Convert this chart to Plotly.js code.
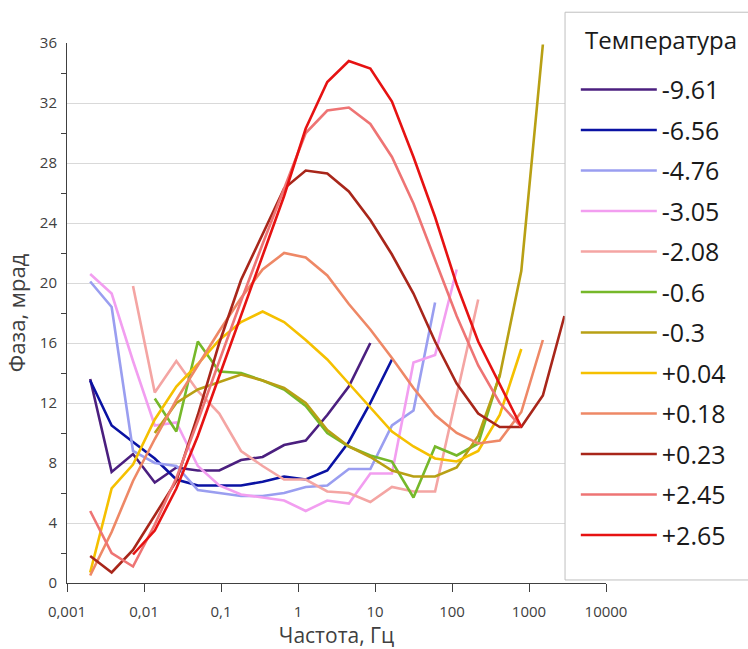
<!DOCTYPE html>
<html>
<head>
<meta charset="utf-8">
<script src="https://cdn.plot.ly/plotly-3.0.1.min.js"></script>
<style>
  html, body { margin: 0; padding: 0; background: #ffffff; }
  #chart { width: 748px; height: 649px; }
</style>
</head>
<body>
<div id="chart"></div>
<script>
// Frequencies, Hz
const freq = [0.002, 0.0038, 0.0072, 0.0138, 0.0263, 0.050, 0.095, 0.182, 0.347, 0.66,
              1.26, 2.4, 4.57, 8.7, 16.6, 31.6, 60.3, 115, 219, 417, 794, 1514, 2884];

// Legend labels (temperature)
const legendTitle = 'Температура';
const labels = ['-9.61', '-6.56', '-4.76', '-3.05', '-2.08', '-0.6', '-0.3',
                '+0.04', '+0.18', '+0.23', '+2.45', '+2.65'];

// Phase, mrad (null = no measurement)
const t_m961 = [13.6, 7.4, 8.6, 6.7, 7.7, 7.5, 7.5, 8.2, 8.4, 9.2, 9.5, 11.2, 13.1, 16.0,
                null, null, null, null, null, null, null, null, null];
const t_m656 = [13.5, 10.5, 9.4, 8.3, 6.9, 6.5, 6.5, 6.5, 6.75, 7.1, 6.9, 7.5, 9.4, 12.0, 14.9,
                null, null, null, null, null, null, null, null];
const t_m476 = [20.1, 18.4, 8.8, 8.0, 7.8, 6.2, 6.0, 5.8, 5.8, 6.0, 6.4, 6.5, 7.6, 7.6, 10.5, 11.5, 18.7,
                null, null, null, null, null, null];
const t_m305 = [20.6, 19.3, 14.8, 10.5, 10.7, 7.8, 6.5, 5.9, 5.7, 5.5, 4.8, 5.5, 5.3, 7.3, 7.3, 14.7, 15.2, 20.9,
                null, null, null, null, null];
const t_m208 = [null, null, 19.8, 12.7, 14.8, 12.8, 11.3, 8.8, 7.8, 6.9, 6.9, 6.1, 6.0, 5.4, 6.4, 6.1, 6.1, 12.5, 18.9,
                null, null, null, null];
const t_m06  = [null, null, null, 12.3, 10.1, 16.1, 14.1, 14.0, 13.5, 12.9, 11.8, 10.0, 9.1, 8.5, 8.1, 5.7, 9.1, 8.5, 9.3, 13.9,
                null, null, null];
const t_m03  = [null, null, null, 10.0, 12.0, 12.9, 13.4, 13.9, 13.5, 13.0, 12.0, 10.2, 9.1, 8.4, 7.5, 7.1, 7.1, 7.7, 9.8, 13.8, 20.8, 35.9,
                null];
const t_p004 = [0.7, 6.3, 7.9, 10.9, 13.1, 14.6, 16.2, 17.4, 18.1, 17.4, 16.2, 14.9, 13.3, 11.7, 10.1, 9.1, 8.3, 8.1, 8.8, 11.2, 15.6,
                null, null];
const t_p018 = [0.5, 3.4, 6.8, 9.6, 12.2, 14.5, 16.8, 19.0, 20.9, 22.0, 21.7, 20.5, 18.6, 16.9, 15.0, 13.0, 11.2, 10.0, 9.3, 9.5, 11.4, 16.2,
                null];
const t_p023 = [1.8, 0.7, 2.2, 4.5, 6.8, 11.2, 16.0, 20.2, 23.3, 26.3, 27.5, 27.3, 26.1, 24.2, 21.9, 19.3, 16.1, 13.3, 11.3, 10.4, 10.4, 12.5, 17.8];
const t_p245 = [4.8, 2.0, 1.1, 3.9, 7.0, 10.8, 14.8, 18.8, 22.6, 26.3, 30.0, 31.5, 31.7, 30.6, 28.4, 25.3, 21.6, 17.8, 14.5, 12.0, 10.4,
                null, null];
const t_p265 = [null, null, 1.9, 3.5, 6.3, 9.8, 13.8, 17.8, 21.8, 25.8, 30.3, 33.4, 34.8, 34.3, 32.1, 28.4, 24.4, 19.9, 16.1, 13.3, 10.4,
                null, null];

// Axis tick labels
const xTickVals = [0.001, 0.01, 0.1, 1, 10, 100, 1000, 10000];
const xTickText = ['0,001', '0,01', '0,1', '1', '10', '100', '1000', '10000'];

const series = [t_m961, t_m656, t_m476, t_m305, t_m208, t_m06, t_m03, t_p004, t_p018, t_p023, t_p245, t_p265];
const colors = ['#4B1F7F', '#0A12A3', '#9A9EF0', '#F29EF0', '#F4A5A3', '#76B82A', '#B8A014',
                '#F5C000', '#EE8866', '#A8261A', '#EE7474', '#E61212'];

const traces = series.map((ys, k) => ({
  type: 'scatter',
  mode: 'lines',
  x: freq,
  y: ys,
  name: labels[k],
  legendgroup: 'g' + k,
  connectgaps: false,
  line: { color: colors[k], width: 2.6 },
  hoverinfo: 'skip'
}));

const font = '"Open Sans", "DejaVu Sans", sans-serif';

const layout = {
  width: 748,
  height: 649,
  margin: { l: 67, r: 142, t: 43, b: 66, autoexpand: false },
  paper_bgcolor: '#ffffff',
  plot_bgcolor: '#ffffff',
  font: { family: font, color: '#404040' },
  showlegend: true,
  xaxis: {
    type: 'log',
    range: [-3, 4],
    tickmode: 'array',
    tickvals: xTickVals,
    ticktext: xTickText,
    ticks: 'outside',
    ticklen: 8,
    tickcolor: '#404040',
    ticklabelstandoff: 7,
    showgrid: false,
    showline: true,
    linecolor: '#404040',
    linewidth: 1,
    zeroline: false,
    tickfont: { size: 15, color: '#404040' },
    title: { text: 'Частота, Гц', font: { size: 21, color: '#404040' }, standoff: 9 }
  },
  yaxis: {
    range: [0, 36],
    tickmode: 'linear',
    tick0: 0,
    dtick: 4,
    ticks: '',
    ticklabelstandoff: 6,
    showgrid: true,
    gridcolor: '#d9d9d9',
    gridwidth: 1,
    showline: true,
    linecolor: '#404040',
    linewidth: 1,
    zeroline: false,
    minor: { tick0: 2, dtick: 4, ticks: 'outside', ticklen: 5, tickcolor: '#404040', showgrid: false },
    tickfont: { size: 15, color: '#404040' },
    title: { text: 'Фаза, мрад', font: { size: 22, color: '#404040' }, standoff: 8 }
  },
  shapes: [{
    type: 'rect', xref: 'paper', yref: 'paper', layer: 'above',
    x0: 0.924, x1: 1.4, y0: 0.0056, y1: 1.057,
    fillcolor: '#ffffff',
    line: { color: '#bfbfbf', width: 1 }
  }],
  annotations: [{
    xref: 'paper', yref: 'paper',
    x: 0.957, y: 1.007, xanchor: 'left', yanchor: 'middle',
    text: legendTitle, showarrow: false,
    font: { size: 24, color: '#1a1a1a', family: font }
  }],
  legend: {
    x: 0.944,
    xanchor: 'left',
    y: 0.956,
    yanchor: 'top',
    maxheight: 640,
    bgcolor: 'rgba(0,0,0,0)',
    borderwidth: 0,
    font: { size: 25, color: '#1a1a1a', family: font },
    traceorder: 'grouped',
    tracegroupgap: 5,
    itemwidth: 76
  }
};

Plotly.newPlot('chart', traces, layout, { displayModeBar: false, staticPlot: true });
</script>
</body>
</html>
